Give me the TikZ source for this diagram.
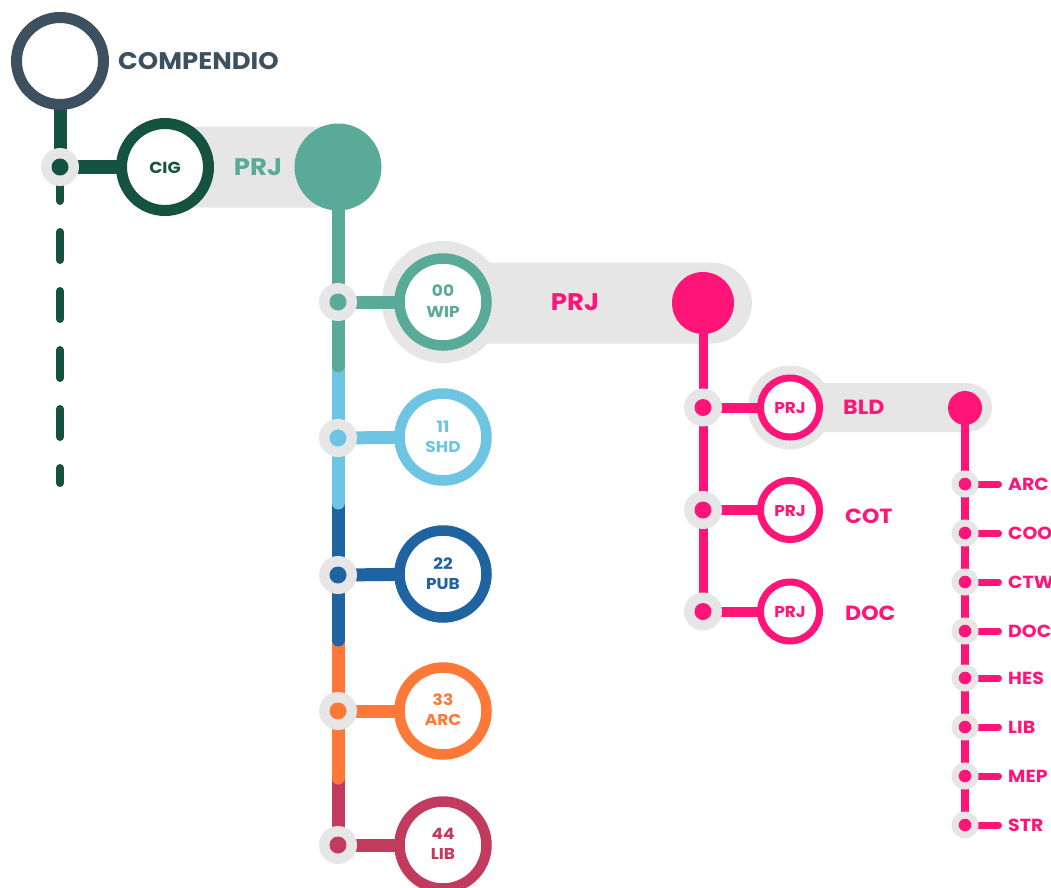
\documentclass[tikz,border=0pt]{standalone}
\usepackage{fontspec}
\setmainfont{Poppins}[FakeStretch=1.08]
\pgfdeclarelayer{pills}
\pgfdeclarelayer{lines}
\pgfsetlayers{pills,lines,main}
\definecolor{slate}{HTML}{3D5060}
\definecolor{dgreen}{HTML}{15523F}
\definecolor{tealc}{HTML}{5AAA9A}
\definecolor{lblue}{HTML}{6EC4E3}
\definecolor{dblue}{HTML}{1F64A0}
\definecolor{orng}{HTML}{FE7838}
\definecolor{crim}{HTML}{C23B5E}
\definecolor{pnk}{HTML}{FF1478}
\definecolor{lgray}{HTML}{E6E6E6}
\tikzset{
  ring/.style={circle, draw, fill=white, inner sep=0pt, line width=11pt, minimum size=87pt},
  sring/.style={circle, draw=pnk, fill=white, inner sep=0pt, line width=7pt, minimum size=59pt},
  junc/.style={circle, fill=lgray, inner sep=0pt, minimum size=38pt},
  jdot/.style={circle, inner sep=0pt, minimum size=17pt},
  sjunc/.style={circle, fill=lgray, inner sep=0pt, minimum size=27pt},
  sjdot/.style={circle, fill=pnk, inner sep=0pt, minimum size=12.6pt},
  bigdot/.style={circle, inner sep=0pt},
  conn/.style={line width=13pt},
  tA/.style={inner sep=0pt, text depth=0pt, text height=16.8pt, font=\bfseries\fontsize{24}{24}\selectfont},
  tB/.style={inner sep=0pt, text depth=0pt, text height=16.8pt, font=\bfseries\fontsize{24}{24}\selectfont},
  tC/.style={inner sep=0pt, text depth=0pt, text height=14.3pt, font=\bfseries\fontsize{20.5}{20.5}\selectfont},
  tD/.style={inner sep=0pt, text depth=0pt, text height=12.25pt, font=\bfseries\fontsize{17.5}{17.5}\selectfont},
  tE/.style={inner sep=0pt, text depth=0pt, text height=11.2pt, font=\bfseries\fontsize{16}{16}\selectfont},
  tF/.style={inner sep=0pt, text depth=0pt, text height=11pt, font=\bfseries\fontsize{15.7}{15.7}\selectfont},
}
\begin{document}
\begin{tikzpicture}[x=1pt,y=-1pt]
\useasboundingbox (0,0) rectangle (1051,887);

% ---------- top level
\node[ring, draw=slate] (comp) at (60,61) {};
\node[tA, text=slate, anchor=west] (compt) at (118,61) {COMPENDIO};
\node[junc] (j0) at (60,167) {};
\node[jdot, fill=dgreen] (j0d) at (60,167) {};
\coordinate (dashA) at (60,173);
\coordinate (dashB) at (60,483);
\node[ring, draw=dgreen] (cig) at (165,167) {};
\node[tE, text=dgreen] (cigt) at (165,168) {CIG};
\node[bigdot, fill=tealc, minimum size=87pt] (tdot) at (338,167) {};
\node[tB, text=tealc] (prj1) at (258,167) {PRJ};

% ---------- second level
\node[junc] (j1) at (338,302) {};
\node[jdot, fill=tealc] (j1d) at (338,302) {};
\node[junc] (j2) at (338,438) {};
\node[jdot, fill=lblue] (j2d) at (338,438) {};
\node[junc] (j3) at (338,575) {};
\node[jdot, fill=dblue] (j3d) at (338,575) {};
\node[junc] (j4) at (338,711) {};
\node[jdot, fill=orng] (j4d) at (338,711) {};
\node[junc] (j5) at (338,845) {};
\node[jdot, fill=crim] (j5d) at (338,845) {};
\coordinate (s1) at (338,366);
\coordinate (s2) at (338,503);
\coordinate (s3) at (338,640);
\coordinate (s4) at (338,778);

\node[ring, draw=tealc, line width=10.5pt] (wip) at (443,302) {};
\node[tF, text=tealc] (wipa) at (443,291) {00};
\node[tF, text=tealc] (wipb) at (443,312) {WIP};
\node[ring, draw=lblue, line width=10.5pt] (shd) at (443,437) {};
\node[tF, text=lblue] (shda) at (443,427) {11};
\node[tF, text=lblue] (shdb) at (443,447) {SHD};
\node[ring, draw=dblue, line width=10.5pt] (pub) at (443,574) {};
\node[tF, text=dblue] (puba) at (443,564) {22};
\node[tF, text=dblue] (pubb) at (443,584) {PUB};
\node[ring, draw=orng, line width=10.5pt] (arc) at (443,711) {};
\node[tF, text=orng] (arca) at (443,700) {33};
\node[tF, text=orng] (arcb) at (443,720) {ARC};
\node[ring, draw=crim, line width=10.5pt] (lib) at (443,845) {};
\node[tF, text=crim] (liba) at (443,834) {44};
\node[tF, text=crim] (libb) at (443,854) {LIB};

\node[bigdot, fill=pnk, minimum size=62pt] (pdot) at (703,303) {};
\node[tB, text=pnk] (prj2) at (575,302) {PRJ};

% ---------- third level
\node[junc] (pj1) at (703,407.5) {};
\node[jdot, fill=pnk] (pj1d) at (703,407.5) {};
\node[junc] (pj2) at (703,510) {};
\node[jdot, fill=pnk] (pj2d) at (703,510) {};
\node[junc] (pj3) at (703,611.5) {};
\node[jdot, fill=pnk] (pj3d) at (703,611.5) {};
\node[sring] (bld) at (790,407.5) {};
\node[tF, text=pnk] (bldp) at (790,408) {PRJ};
\node[sring] (cot) at (790,510) {};
\node[tF, text=pnk] (cotp) at (790,511) {PRJ};
\node[sring] (doc) at (790,611.5) {};
\node[tF, text=pnk] (docp) at (790,612) {PRJ};
\node[tC, text=pnk, anchor=west] (bldt) at (843,407) {BLD};
\node[tC, text=pnk, anchor=west] (cott) at (845,516) {COT};
\node[tC, text=pnk, anchor=west] (doct) at (845,613) {DOC};
\node[bigdot, fill=pnk, minimum size=34pt] (bdot) at (965,408) {};

% ---------- fourth level
\foreach \n/\y/\t in {1/484/ARC,2/533/COO,3/582/CTW,4/631/DOC,5/678/HES,6/727/LIB,7/776/MEP,8/825/STR}{
  \node[sjunc] (q\n) at (965,\y) {};
  \node[sjdot] (q\n d) at (965,\y) {};
  \coordinate (e\n) at (998.5,\y);
  \node[tD, text=pnk, anchor=west] (l\n) at (1008,\y) {\t};
}

% ---------- pills
\begin{pgfonlayer}{pills}
  \fill[lgray, rounded corners=40.5pt] (150,126.5) rectangle (381,207.5);
  \fill[lgray] (wip.center) circle[radius=61];
  \fill[lgray, rounded corners=40.5pt] (443,262.5) rectangle (752,343.5);
  \fill[lgray] (bld.center) circle[radius=42];
  \fill[lgray, rounded corners=24.5pt] (790,383) rectangle (992,432);
\end{pgfonlayer}

% ---------- lines
\begin{pgfonlayer}{lines}
  \draw[dgreen, line width=13pt] (comp.center) -- (j0.center);
  \draw[dgreen, line width=8pt, line cap=round, dash pattern=on 28pt off 31pt] (dashA) -- (dashB);
  \draw[dgreen, line width=14pt] (j0.center) -- (cig.center);
  % teal trunk, segments drawn bottom first
  \draw[crim, line width=13pt] (s4) -- (j5.center);
  \draw[orng, line width=13pt, line cap=round] (s3) -- (s4);
  \draw[dblue, line width=13pt, line cap=round] (s2) -- (s3);
  \draw[lblue, line width=13pt, line cap=round] (s1) -- (s2);
  \draw[tealc, line width=13pt, line cap=round] (tdot.center) -- (s1);
  \draw[tealc, conn] (j1.center) -- (wip.center);
  \draw[lblue, conn] (j2.center) -- (shd.center);
  \draw[dblue, conn] (j3.center) -- (pub.center);
  \draw[orng, conn] (j4.center) -- (arc.center);
  \draw[crim, conn] (j5.center) -- (lib.center);
  % pink
  \draw[pnk, line width=9pt] (pdot.center) -- (pj3.center);
  \draw[pnk, line width=10pt] (pj1.center) -- (bld.center);
  \draw[pnk, line width=10pt] (pj2.center) -- (cot.center);
  \draw[pnk, line width=10pt] (pj3.center) -- (doc.center);
  \draw[pnk, line width=8pt] (bdot.center) -- (q8.center);
  \foreach \n in {1,...,8}{
    \draw[pnk, line width=7pt, line cap=round] (q\n.center) -- (e\n);
  }
\end{pgfonlayer}
\end{tikzpicture}
\end{document}
